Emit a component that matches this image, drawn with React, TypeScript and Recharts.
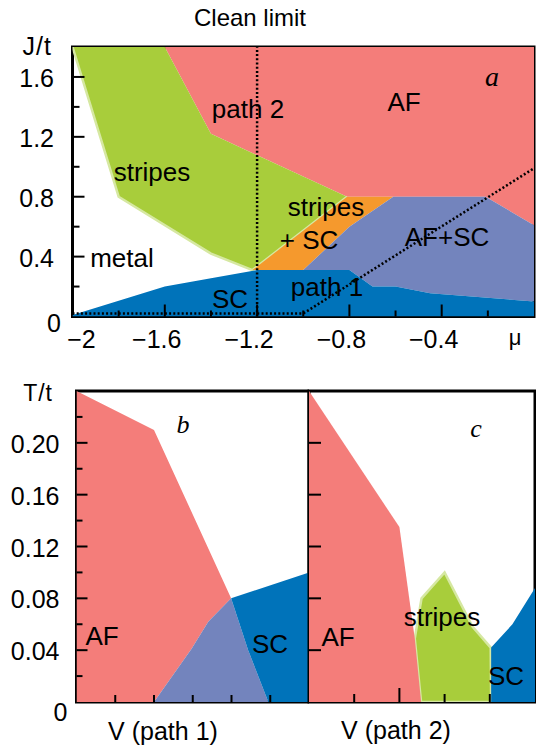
import { ScatterChart, Scatter, XAxis, YAxis, ReferenceArea } from 'recharts'

// ---- panel a: ground state, J/t vs mu ----
const MU_TICKS = [-2, -1.8, -1.6, -1.4, -1.2, -1, -0.8, -0.6, -0.4, -0.2, 0]
const MU_LABELS = ['−2', '', '−1.6', '', '−1.2', '', '−0.8', '', '−0.4', '', '']
const J_TICKS = [0, 0.2, 0.4, 0.6, 0.8, 1, 1.2, 1.4, 1.6, 1.8]
const J_LABELS = ['0', '', '0.4', '', '0.8', '', '1.2', '', '1.6', '']

const AF_A = [
  { mu: -1.6, J: 1.8 }, { mu: 0, J: 1.8 }, { mu: 0, J: 0.61 }, { mu: -0.21, J: 0.8 },
  { mu: -0.81, J: 0.8 }, { mu: -1.4, J: 1.22 },
]
const STRIPES_A = [
  { mu: -2, J: 1.8 }, { mu: -1.6, J: 1.8 }, { mu: -1.4, J: 1.22 }, { mu: -0.81, J: 0.8 },
  { mu: -1.22, J: 0.31 }, { mu: -1.4, J: 0.42 }, { mu: -1.8, J: 0.8 },
]
const STRIPES_A_EDGE = [
  { mu: -2, J: 1.8 }, { mu: -1.8, J: 0.8 }, { mu: -1.4, J: 0.42 }, { mu: -1.22, J: 0.31 },
  { mu: -0.81, J: 0.8 },
]
const STRIPES_SC_A = [
  { mu: -1.22, J: 0.31 }, { mu: -0.81, J: 0.8 }, { mu: -0.61, J: 0.8 }, { mu: -0.8, J: 0.6 },
  { mu: -1.0, J: 0.31 },
]
const AFSC_A = [
  { mu: -1.0, J: 0.31 }, { mu: -0.8, J: 0.6 }, { mu: -0.61, J: 0.8 }, { mu: -0.21, J: 0.8 },
  { mu: 0, J: 0.61 }, { mu: 0, J: 0.1 }, { mu: -0.45, J: 0.155 }, { mu: -0.6, J: 0.2 },
  { mu: -0.7, J: 0.2 }, { mu: -0.8, J: 0.31 },
]
const SC_A = [
  { mu: -2, J: 0 }, { mu: -2, J: 0.01 }, { mu: -1.6, J: 0.2 }, { mu: -1.4, J: 0.255 },
  { mu: -1.2, J: 0.31 }, { mu: -0.8, J: 0.31 }, { mu: -0.7, J: 0.2 }, { mu: -0.6, J: 0.2 },
  { mu: -0.45, J: 0.155 }, { mu: 0, J: 0.1 }, { mu: 0, J: 0 },
]
const CLEAN_LIMIT = [{ mu: -1.2, J: 0 }, { mu: -1.2, J: 1.8 }]
const PATH_1 = [{ mu: -2, J: 0.02 }, { mu: -1, J: 0.02 }, { mu: 0, J: 0.99 }]

// ---- panels b, c: T/t along the two paths ----
const T_TICKS = [0, 0.02, 0.04, 0.06, 0.08, 0.1, 0.12, 0.14, 0.16, 0.18, 0.2, 0.22, 0.24]
const T_LABELS = ['0', '', '0.04', '', '0.08', '', '0.12', '', '0.16', '', '0.20', '', '']
const T_TICKS_C = [0.04, 0.08, 0.12, 0.16, 0.2]
const V1_TICKS = [1, 2, 3, 4, 5]
const V2_TICKS = [1, 2, 3, 4]

const AF_B = [
  { v: 0, T: 0.24 }, { v: 2, T: 0.21 }, { v: 3.99, T: 0.08 }, { v: 3.4, T: 0.062 },
  { v: 2.97, T: 0.041 }, { v: 2, T: 0 }, { v: 0, T: 0 },
]
const AFSC_B = [
  { v: 2, T: 0 }, { v: 2.97, T: 0.041 }, { v: 3.4, T: 0.062 }, { v: 3.99, T: 0.08 },
  { v: 4.43, T: 0.04 }, { v: 4.95, T: 0 },
]
const SC_B = [
  { v: 3.99, T: 0.08 }, { v: 6, T: 0.1 }, { v: 6, T: 0 }, { v: 4.95, T: 0 }, { v: 4.43, T: 0.04 },
]

const STRIPES_C = [
  { v: 2.34, T: 0.049 }, { v: 2.49, T: 0.08 }, { v: 3.0, T: 0.1 }, { v: 3.62, T: 0.058 },
  { v: 4.02, T: 0.042 }, { v: 4.03, T: 0 }, { v: 2.48, T: 0 },
]
const AF_C = [
  { v: 0, T: 0.24 }, { v: 2, T: 0.135 }, { v: 2.34, T: 0.049 }, { v: 2.48, T: 0 }, { v: 0, T: 0 },
]
const SC_C = [
  { v: 4.03, T: 0 }, { v: 4.03, T: 0.042 }, { v: 4.5, T: 0.06 }, { v: 5, T: 0.088 }, { v: 5, T: 0 },
]

const PINK = '#f47d7a'
const GREEN = '#a8cd3b'
const EDGE = '#d6e8a2'
const ORANGE = '#f5992d'
const PURPLE = '#7384bd'
const BLUE = '#0073ba'
const FONT = 'Liberation Sans, Arial, Helvetica, sans-serif'

const pts = (p: any) => p.points.map((q: any) => `${q.x},${q.y}`).join(' ')

const region = (color: string, edge?: string) => (p: any) => (
  <polygon points={pts(p)} fill={color} stroke={edge || 'none'} strokeWidth={edge ? 2.5 : 0} />
)
const outline = (color: string, width: number, dash?: string) => (p: any) => (
  <polyline points={pts(p)} fill="none" stroke={color} strokeWidth={width} strokeDasharray={dash} />
)
const noDot = () => <g />

const xTick = (labels: string[], dx: (i: number) => number, len: (i: number) => number, n: number) =>
  (p: any) => {
    const i = p.index
    const l = len(i)
    return (
      <g key={i}>
        {l > 0 && i > 0 && i < n - 1 && (
          <line x1={p.x} y1={p.y} x2={p.x} y2={p.y - l} stroke="#000" strokeWidth={2} />
        )}
        {labels[i] && (
          <text x={p.x + dx(i)} y={p.y + 31} textAnchor="middle" fontFamily={FONT} fontSize={25} fill="#000">
            {labels[i]}
          </text>
        )}
      </g>
    )
  }

const plainTickX = (len: number[]) => (p: any) => (
  <line key={p.index} x1={p.x} y1={p.y} x2={p.x} y2={p.y - len[p.index]} stroke="#000" strokeWidth={2} />
)

const yTick = (labels: string[], len: (i: number) => number, n: number, zero: { dx: number; dy: number }, rightGap: number) =>
  (p: any) => {
    const i = p.index
    const l = len(i)
    return (
      <g key={i}>
        {l > 0 && i > 0 && i < n - 1 && (
          <line x1={p.x} y1={p.y} x2={p.x + l} y2={p.y} stroke="#000" strokeWidth={2} />
        )}
        {labels[i] && (
          <text
            x={i === 0 ? p.x + zero.dx : p.x - rightGap}
            y={i === 0 ? p.y + zero.dy : p.y + 10}
            textAnchor={i === 0 ? 'middle' : 'end'}
            fontFamily={FONT}
            fontSize={25}
            fill="#000"
          >
            {labels[i]}
          </text>
        )}
      </g>
    )
  }

function PanelA() {
  return (
    <ScatterChart width={536} height={362} margin={{ top: 47, right: 2, bottom: 0, left: 0 }}>
      <XAxis
        type="number" dataKey="mu" domain={[-2, 0]} ticks={MU_TICKS} interval={0} allowDataOverflow
        axisLine={false} tickLine={false} tickSize={0} tickMargin={0} height={45.5}
        tick={xTick(MU_LABELS, (i) => (i === 0 ? 9 : -8), (i) => (i % 2 === 0 ? 12 : 6), MU_TICKS.length)}
      />
      <YAxis
        type="number" dataKey="J" domain={[0, 1.8]} ticks={J_TICKS} interval={0} allowDataOverflow
        axisLine={false} tickLine={false} tickSize={0} tickMargin={0} width={72.5}
        tick={yTick(J_LABELS, (i) => (i % 2 === 0 ? 12 : 7), J_TICKS.length, { dx: -18.5, dy: 15 }, 18.5)}
      />
      <Scatter data={AF_A} line={region(PINK)} shape={noDot} isAnimationActive={false} />
      <Scatter data={STRIPES_A} line={region(GREEN)} shape={noDot} isAnimationActive={false} />
      <Scatter data={STRIPES_A_EDGE} line={outline(EDGE, 2.5)} shape={noDot} isAnimationActive={false} />
      <Scatter data={STRIPES_SC_A} line={region(ORANGE)} shape={noDot} isAnimationActive={false} />
      <Scatter data={AFSC_A} line={region(PURPLE)} shape={noDot} isAnimationActive={false} />
      <Scatter data={SC_A} line={region(BLUE)} shape={noDot} isAnimationActive={false} />
      <Scatter data={CLEAN_LIMIT} line={outline('#000', 2.5, '2 2.2')} shape={noDot} isAnimationActive={false} />
      <Scatter data={PATH_1} line={outline('#000', 2.5, '2 2.2')} shape={noDot} isAnimationActive={false} />
      <ReferenceArea x1={-2} x2={0} y1={0} y2={1.8} fill="none" stroke="#000" strokeWidth={3} />
    </ScatterChart>
  )
}

function PanelB() {
  return (
    <ScatterChart width={309} height={368} margin={{ top: 11, right: 0, bottom: 0, left: 0 }}>
      <XAxis
        type="number" dataKey="v" domain={[0, 6]} ticks={V1_TICKS} interval={0} allowDataOverflow
        axisLine={false} tickLine={false} tickSize={0} tickMargin={0} height={46}
        tick={plainTickX([7, 7, 7, 7, 7])}
      />
      <YAxis
        type="number" dataKey="T" domain={[0, 0.24]} ticks={T_TICKS} interval={0} allowDataOverflow
        axisLine={false} tickLine={false} tickSize={0} tickMargin={0} width={76.5}
        tick={yTick(T_LABELS, (i) => (i % 2 === 0 ? 11 : 6), T_TICKS.length, { dx: -16, dy: 19 }, 17)}
      />
      <Scatter data={AF_B} line={region(PINK)} shape={noDot} isAnimationActive={false} />
      <Scatter data={AFSC_B} line={region(PURPLE)} shape={noDot} isAnimationActive={false} />
      <Scatter data={SC_B} line={region(BLUE)} shape={noDot} isAnimationActive={false} />
      <ReferenceArea x1={0} x2={6} y1={0} y2={0.24} fill="none" stroke="#000" strokeWidth={3} />
    </ScatterChart>
  )
}

function PanelC() {
  return (
    <ScatterChart width={247} height={368} margin={{ top: 11, right: 1, bottom: 0, left: 0 }}>
      <XAxis
        type="number" dataKey="v" domain={[0, 5]} ticks={V2_TICKS} interval={0} allowDataOverflow
        axisLine={false} tickLine={false} tickSize={0} tickMargin={0} height={46}
        tick={plainTickX([8, 14, 8, 8])}
      />
      <YAxis
        type="number" dataKey="T" domain={[0, 0.24]} ticks={T_TICKS_C} interval={0} allowDataOverflow
        axisLine={false} tickLine={false} tickSize={0} tickMargin={0} width={20}
        tick={(p: any) => (
          <line key={p.index} x1={p.x} y1={p.y} x2={p.x + 12} y2={p.y} stroke="#000" strokeWidth={2} />
        )}
      />
      <Scatter data={STRIPES_C} line={region(GREEN, EDGE)} shape={noDot} isAnimationActive={false} />
      <Scatter data={AF_C} line={region(PINK)} shape={noDot} isAnimationActive={false} />
      <Scatter data={SC_C} line={region(BLUE)} shape={noDot} isAnimationActive={false} />
      <ReferenceArea x1={0} x2={5} y1={0} y2={0.24} fill="none" stroke="#000" strokeWidth={3} />
    </ScatterChart>
  )
}

const label = { fontFamily: FONT, fontSize: 26, fill: '#000', textAnchor: 'middle' as const }
const italic = { fontFamily: 'Liberation Serif, Times New Roman, serif', fontStyle: 'italic', fill: '#000', textAnchor: 'middle' as const }

export default function App() {
  return (
    <div style={{ position: 'absolute', left: 0, top: 0, width: 536, height: 748, background: '#fff' }}>
      <div style={{ position: 'absolute', left: 0, top: 0 }}>
        <PanelA />
      </div>
      <div style={{ position: 'absolute', left: 0, top: 380 }}>
        <PanelB />
      </div>
      <div style={{ position: 'absolute', left: 289, top: 380 }}>
        <PanelC />
      </div>
      <svg width={536} height={748} style={{ position: 'absolute', left: 0, top: 0, pointerEvents: 'none' }}>
        <text x={250} y={26} {...label} fontSize={24}>Clean limit</text>
        <text x={52} y={55} {...label} fontSize={25} letterSpacing={1} textAnchor="end">J/t</text>
        <text x={248} y={118} {...label}>path 2</text>
        <text x={404} y={111} {...label}>AF</text>
        <text x={492} y={86} {...italic} fontSize={28}>a</text>
        <text x={152} y={181} {...label}>stripes</text>
        <text x={122} y={267} {...label}>metal</text>
        <text x={230} y={308} {...label}>SC</text>
        <text x={326} y={216} {...label}>stripes</text>
        <text x={309} y={249} {...label}>+ SC</text>
        <text x={447} y={246} {...label}>AF+SC</text>
        <text x={327} y={296} {...label}>path 1</text>
        <text x={515} y={345} {...label} fontSize={22}>μ</text>

        <text x={53} y={401} {...label} fontSize={23} letterSpacing={1} textAnchor="end">T/t</text>
        <text x={183} y={433} {...italic} fontSize={26}>b</text>
        <text x={102} y={645} {...label}>AF</text>
        <text x={270} y={653} {...label}>SC</text>
        <text x={476} y={437} {...italic} fontSize={26}>c</text>
        <text x={338} y={646} {...label}>AF</text>
        <text x={442} y={626} {...label}>stripes</text>
        <text x={506} y={685} {...label}>SC</text>
        <text x={163} y={740} {...label} fontSize={25}>V (path 1)</text>
        <text x={396} y={739} {...label} fontSize={25}>V (path 2)</text>
      </svg>
    </div>
  )
}
